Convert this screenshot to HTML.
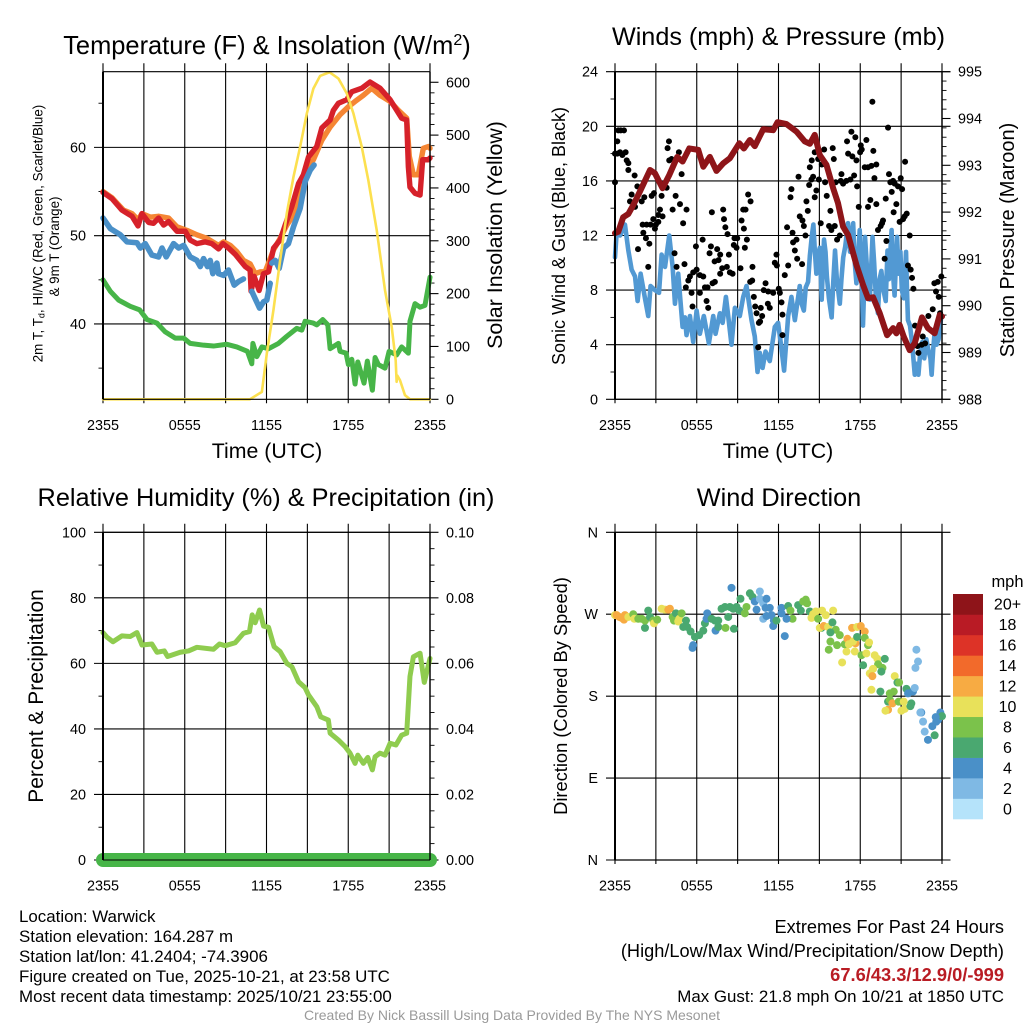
<!DOCTYPE html>
<html lang="en">
<head>
<meta charset="utf-8">
<title>Warwick Mesonet Meteogram</title>
<style>
html,body{margin:0;padding:0;background:#fff;}
svg{display:block;font-family:"Liberation Sans",sans-serif;}
text{fill:#000;}
</style>
</head>
<body>
<svg id="chart" xmlns="http://www.w3.org/2000/svg" width="1024" height="1024" viewBox="0 0 1024 1024">
<rect x="0" y="0" width="1024" height="1024" fill="#fff"/>
<g id="marks"></g>

<text x="267" y="54" font-size="25.45" text-anchor="middle">Temperature (F) &amp; Insolation (W/m<tspan font-size="16" dy="-9">2</tspan><tspan dy="9">)</tspan></text>
<text x="778.5" y="45" font-size="25.2" text-anchor="middle">Winds (mph) &amp; Pressure (mb)</text>
<text x="266" y="506" font-size="25.3" text-anchor="middle">Relative Humidity (%) &amp; Precipitation (in)</text>
<text x="779" y="506" font-size="25.3" text-anchor="middle">Wind Direction</text>

<text x="267" y="458" font-size="21.3" text-anchor="middle">Time (UTC)</text>
<text x="778" y="458" font-size="21.3" text-anchor="middle">Time (UTC)</text>

<text transform="translate(42.7 233.5) rotate(-90)" font-size="13.4" text-anchor="middle">2m T, T<tspan font-size="9" dy="2">d</tspan><tspan dy="-2">, HI/WC (Red, Green, Scarlet/Blue)</tspan></text>
<text transform="translate(59 246.5) rotate(-90)" font-size="13.4" text-anchor="middle">&amp; 9m T (Orange)</text>
<text transform="translate(502 235) rotate(-90)" font-size="21.3" text-anchor="middle">Solar Insolation (Yellow)</text>
<text transform="translate(565 236) rotate(-90)" font-size="18" text-anchor="middle">Sonic Wind &amp; Gust (Blue, Black)</text>
<text transform="translate(1014 240) rotate(-90)" font-size="20" text-anchor="middle">Station Pressure (Maroon)</text>
<text transform="translate(43 696) rotate(-90)" font-size="21" text-anchor="middle">Percent &amp; Precipitation</text>
<text transform="translate(567 696) rotate(-90)" font-size="18.3" text-anchor="middle">Direction (Colored By Speed)</text>

<text x="1007.5" y="587" font-size="16.5" text-anchor="middle">mph</text>

<text x="19" y="922" font-size="16.9">Location: Warwick</text>
<text x="19" y="942" font-size="16.9">Station elevation: 164.287 m</text>
<text x="19" y="962" font-size="16.9">Station lat/lon: 41.2404; -74.3906</text>
<text x="19" y="982" font-size="16.9">Figure created on Tue, 2025-10-21, at 23:58 UTC</text>
<text x="19" y="1002" font-size="16.9">Most recent data timestamp: 2025/10/21 23:55:00</text>

<text x="1004" y="933" font-size="18.2" text-anchor="end">Extremes For Past 24 Hours</text>
<text x="1004" y="957" font-size="18.2" text-anchor="end">(High/Low/Max Wind/Precipitation/Snow Depth)</text>
<text x="1004" y="981" font-size="18.3" font-weight="bold" text-anchor="end" style="fill:#b91c24">67.6/43.3/12.9/0/-999</text>
<text x="1004" y="1002" font-size="16.9" text-anchor="end">Max Gust: 21.8 mph On 10/21 at 1850 UTC</text>
<text x="512" y="1020" font-size="14" text-anchor="middle" style="fill:#9a9a9a">Created By Nick Bassill Using Data Provided By The NYS Mesonet</text>
</svg>

<script>
// ---- shared axis values
const gridHours = [0,3,6,9,12,15,18,21,24];
const xLabelHours = [0,6,12,18,24];
const xLabels = ['2355','0555','1155','1755','2355'];

// ---- temperature panel
const tempTicks = [40,50,60];
const tempMinorTicks = [35,45,55,65];
const solarTicks = [0,100,200,300,400,500,600];
const solarMinorTicks = [20,40,60,80,120,140,160,180,220,240,260,280,320,340,360,380,420,440,460,480,520,540,560,580];
const redHours = [0,.66,1.39,2.13,2.57,2.86,3.35,3.71,4.08,4.45,4.81,5.43,6.04,6.4,6.89,7.5,7.99,8.48,8.8,9.21,9.7,10.07,10.44,10.8,10.87,11.09,11.46,11.78,12.15,12.52,13,13.37,13.86,14.35,14.71,15.08,15.69,16.06,16.67,16.91,17.28,17.89,18.26,19,19.6,20.33,21.07,21.92,22.29,22.41,22.53,22.9,23.27,23.46,23.88,24];
const redTemp = [54.9,54.2,52.9,52.2,51.1,52.5,51.5,51.4,52,51.2,51.6,50.5,50.5,49.5,49.1,49.3,49.1,48.5,49.1,48.6,47.9,47.2,46.5,46.1,43.7,45.4,43.8,45.7,45.9,48.6,49.5,51.2,53.3,55.9,56.9,58.9,60.1,62.2,63.1,64.2,65,65.4,66.3,66.7,67.4,66.7,65.4,63.3,63.1,57.8,55.5,54.8,54.6,58.6,58.6,58.8];
const orangeHours = [0,.66,1.5,2.13,2.57,2.86,3.47,4.08,4.81,5.43,6.16,6.89,7.62,8.48,8.85,9.34,9.82,10.31,10.8,11.17,11.53,11.9,12.52,13,13.49,13.98,14.47,14.96,15.44,16.06,16.67,17.4,18.01,18.5,19.11,19.72,20.33,21.07,21.68,22.29,22.48,22.78,23.14,23.51,23.88,24];
const orangeTemp = [55,54.3,52.9,52.5,51.8,52.5,52.1,52.2,52,51,50.6,50.1,49.7,48.9,49.3,48.9,48.2,47.2,46.8,45.7,45.9,45.9,48.4,49.7,51.2,52.3,54.8,57.6,58.6,60.8,62.3,63.7,64.6,65.2,65.9,66.7,65.9,65.2,64.2,63.3,59,56.9,56.9,59.9,60.1,59.9];
const chillHours = [0,.54,1.27,1.76,2.49,2.74,3.1,3.59,4.08,4.33,4.64,5.18,5.55,5.92,6.4,6.89,7.14,7.38,7.67,7.87,8.06,8.36,8.48,8.85,9.21,9.63,9.95,10.31,10.5,10.92,11.22,11.49,11.78,12.02,12.27,12.33,12.39,12.64,12.93,13.25,13.61,13.98,14.47,14.83,15.2,15.49];
const chillTemp = [52,50.8,50.1,49.3,49.2,48.6,49.1,47.8,47.6,48.6,47.6,49.1,48.6,48.9,47.6,47.2,46.5,47.4,46.5,47.2,45.7,46.9,45.7,45.5,46.1,44.4,44.8,45.1,null,43.7,42.7,41.8,42.5,42.7,44.6,null,46.9,47.2,46.3,48.6,49.1,51,53.1,56.1,57.4,58];
const dewHours = [0,.54,1.15,2,2.69,3.23,3.96,4.57,5.3,5.92,6.4,7.38,8.11,9.09,9.82,10.6,10.92,11,11.29,11.66,12.15,12.88,13.49,14.22,14.59,14.83,15.44,15.69,16.13,16.5,16.67,17.28,17.4,17.84,18.01,18.26,18.5,18.7,19.16,19.4,19.77,19.97,20.21,20.7,21,21.55,21.92,22.41,22.53,22.9,23.27,23.63,24];
const dewTemp = [45,43.7,42.7,42,41.6,40.5,40.1,39.1,38.4,38.4,37.8,37.6,37.5,37.7,37.4,36.9,35.5,37.8,36.3,37.4,37.2,37.8,38.6,39.5,39.3,40.3,40.1,39.9,40.5,39.9,37.2,37.8,36.9,36.7,35.4,36,33.2,35.7,33.3,35.8,32.5,36.2,35.4,35,36.9,36.5,37.4,36.7,40.3,42.3,41.9,42.1,45.3];
const solarHours = [0,10.78,11.66,12.02,12.51,13,13.49,13.98,14.47,14.96,15.44,15.93,16.62,17.28,17.89,18.38,18.99,19.47,20.09,20.7,21.19,21.48,21.55,21.6,21.8,22.16,22.53,24];
const solarWatts = [0,0,14,86,169,263,352,421,478,541,588,612,619,607,579,541,478,415,320,206,137,74,33,45,36,8,0,0];

// ---- winds panel
const windTicks = [0,4,8,12,16,20,24];
const windMinorTicks = [2,6,10,14,18,22];
const pressureTicks = [988,989,990,991,992,993,994,995];
const pressureMinorTicks = [988.2,988.4,988.6,988.8,989.2,989.4,989.6,989.8,990.2,990.4,990.6,990.8,991.2,991.4,991.6,991.8,992.2,992.4,992.6,992.8,993.2,993.4,993.6,993.8,994.2,994.4,994.6,994.8];
const windHours = [0,.12,.37,.73,.98,1.22,1.47,1.66,1.88,2.2,2.44,2.61,2.93,3.23,3.42,3.67,3.98,4.23,4.4,4.64,4.96,5.13,5.25,5.5,5.74,5.99,6.23,6.52,6.89,7.21,7.38,7.7,7.9,8.14,8.31,8.55,8.8,9.16,9.41,9.65,10.02,10.26,10.46,10.63,10.83,11.05,11.36,11.73,11.97,12.17,12.41,12.71,12.95,13.2,13.56,13.7,13.86,14,14.17,14.3,14.45,14.56,14.66,14.78,14.9,15.03,15.17,15.25,15.34,15.45,15.55,15.7,15.9,16.02,16.15,16.28,16.5,16.62,16.75,16.9,17.1,17.25,17.38,17.48,17.6,17.72,17.85,17.96,18.1,18.2,18.28,18.35,18.5,18.7,18.8,18.9,19.02,19.15,19.3,19.42,19.55,19.7,19.87,20,20.1,20.3,20.42,20.52,20.62,20.7,20.82,20.95,21.05,21.2,21.36,21.43,21.5,21.65,21.8,22,22.12,22.27,22.4,22.55,22.7,22.85,23,23.15,23.24,23.35,23.45,23.6,23.75,23.95];
const windSpeed = [10.4,12.2,12,12.8,10.9,9.5,9,7.2,9.2,7.4,6.1,8.3,8,7.8,10.6,9.7,12,9.7,7,9.2,5.3,6,4.7,6.1,4.2,6.5,4.8,6.1,4.1,6.1,4.8,6.3,5.6,7.5,6.1,4,6.7,6.1,7.5,8.3,5.8,4.6,2,3.4,2.3,3.5,2.8,5.3,5.6,4.1,2.1,6.1,7.5,5.8,8.3,7,6.5,8.2,8.6,10.5,12,12.8,11,9.2,10.6,11.1,7.3,9.5,11.7,10.8,9,7.4,6,8.6,10.9,8.8,7,8.8,10.4,11.2,12.9,10.8,11.9,12.9,10,8.5,10.4,12.4,9.5,5.4,8,11.9,9.5,7.3,9.6,11.9,10,7.4,6.3,8.8,9.4,8,7.2,10.9,8.8,12.4,9,7.6,10,11.9,9.2,10.8,8,7.4,10.8,8,5.8,5.4,4.2,1.8,2.6,1.8,3.4,4.2,3,4.4,3.6,3,1.8,3.6,4.8,4,4.4,6.1];
const gustHours = [0,0,.17,.24,.42,.66,.17,.37,.54,.78,.86,.98,.98,1.44,1.64,1.22,1.1,1.47,1.96,2.15,2.69,2.86,3.42,3.79,3.98,4.15,3.96,3.86,4.69,4.89,4.45,4.77,4.23,5.25,3.3,3.49,3.18,2.81,3.18,3,2.93,2.03,2.32,2.61,5,2.08,2.27,2.52,1.69,2.44,4.37,4.52,5.1,5.94,6.43,7.11,7.94,8,8.1,8.26,8.77,8.97,9.41,9.58,9.95,9.77,9.29,9.46,9.68,8.72,8.92,9.53,7.04,6.94,7.5,7.72,7.6,7.31,8.36,8.21,7.87,7.72,7.33,7.16,8.43,8.63,9.21,10.09,11.85,11.73,11.88,12.71,12.46,13.37,13.73,13.2,13.07,13.32,13.03,12.63,13.98,13.86,13.76,13.56,14.15,14.05,12.88,12.95,13.47,14.3,14.44,14.66,14.91,15.18,15.35,15.98,16.06,14.25,14.42,14.54,14.96,14.78,14.66,15.54,15.42,15.81,15.1,15.71,15.88,16.13,16.3,16.5,16.2,16.62,16.57,16.74,16.98,17.28,17.55,17.77,17.03,17.35,17.64,18.04,18.11,17.99,17.11,17.42,17.72,18.45,18.96,18.33,18.57,18.82,19.18,19.04,18.89,20.04,20.11,20.21,20.41,20.53,20.77,21.07,20.97,21.29,20.31,19.87,18.74,18.57,19.18,17.89,20.65,20.45,21.41,21.26,21.14,20.89,19.67,19.6,19.5,19.3,21.63,19.92,19.79,21.5,21.7,21.8,21.9,23.44,23.69,23.95,23.56,23.76,23.32,23.86,23,22.02,22.59,22.76,22.51,22.27,22.2,10.51,12.29,12.29,12.22,12.1,12.02,11.61,11.24,10.92,11.05,10.19,9.92,10.07,10.29,10.7,10.39,10.8,10.65,10.56,11.22,11.36,5.69,6.84,6.72,6.79,6.6,6.23,5.2,5.62,5.38,5.5,5.74,5.99,6.23,6.48];
const gustSpeed = [15.9,18,18,19.7,19.7,19.7,18.9,18.1,17.9,18.1,17.5,17.3,16.8,16.4,15.6,15,14.5,14.1,14.5,14.8,14.9,15.1,14.9,15.5,17.5,17.6,18.9,18.4,18.1,16.5,14.9,14.3,13.9,13.9,13.9,13.4,13.5,13.2,13,12.8,12.5,12.8,12.8,12.8,12.9,12.2,11.8,11.4,11,9.7,10.7,9.7,9.9,11.2,11.7,13.7,13.9,13.2,12.6,12.1,11.8,11.8,13.9,13.9,14.5,15,13.1,12.5,11.7,11.3,11.1,11.1,11.2,10.7,11,10.6,10.2,10.1,10.6,9.7,9.6,9.2,8.6,8.5,9.3,9.2,9.6,9.7,10.6,10,9.8,9.8,9.1,10.3,9.9,10.9,11.5,11.7,12.2,12.6,12,12.7,13.1,13.4,13.8,14.5,14.8,15.4,16.3,17,17.5,18.1,17.6,17.2,18.3,18.4,17.6,15.7,16.1,16.3,16.1,15.3,14.8,14.9,15.9,13.8,12.9,12.7,12.4,12.7,11.7,12,15.9,16.5,16,15.8,16,16.1,16.4,15.6,18.9,19.6,19.2,18.6,18.3,18.1,18,17.8,17.5,19,18.2,17,17,17.1,17.2,16.2,21.8,19.9,16.5,15.9,16,15.8,15.6,15.4,16.2,17.4,15.2,14.7,14.6,14.1,14.3,14.1,14.3,13.7,13.6,13.4,13.2,13,13.1,12.9,12.7,12.4,12,11.6,10.3,9.8,9.5,8.9,8.1,8.5,8.6,9,7.9,7.5,6.6,6.3,6.1,5.4,4.6,4.1,4,3.4,3.9,3.8,4.7,6.2,7.1,7.8,8.1,7.8,7.9,8,8.5,7.5,8.6,8.7,6.8,6.7,6.3,6.1,5.7,5.6,7,6.7,6.8,6.7,7.2,8.2,8.2,7.8,8.2,7.8,8.7,9,9.3,9.5,9.1,9];
const pressureHours = [0,.24,.6,.98,1.34,1.83,2.57,2.93,3.49,3.98,4.57,4.96,5.45,6.11,6.48,6.96,7.45,7.94,8.43,9.12,9.46,9.9,10.26,10.88,11.61,11.93,12.59,13.32,13.93,14.3,14.66,15.03,15.52,16.01,16.37,16.74,17.11,17.72,18.21,18.57,18.94,19.43,19.97,20.41,20.65,20.89,21.19,21.63,22,22.53,22.97,23.46,23.83,24];
const pressureMb = [991.55,991.58,991.89,991.96,992.15,992.44,992.9,992.83,992.51,992.79,993.18,993.08,993.36,993.33,992.97,993.18,992.88,993.04,993.15,993.47,993.36,993.54,993.41,993.77,993.75,993.92,993.88,993.72,993.51,993.46,993.65,993.22,993.01,992.51,992.19,991.69,991.51,990.87,990.44,990.16,990.18,989.84,989.37,989.52,989.41,989.59,989.34,989.05,989.2,989.75,989.52,989.41,989.8,989.77];

// ---- humidity panel
const humidityTicks = [0,20,40,60,80,100];
const humidityMinorTicks = [10,30,50,70,90];
const precipTicks = [0,.02,.04,.06,.08,.1];
const precipTickLabels = ['0.00','0.02','0.04','0.06','0.08','0.10'];
const precipMinorTicks = [.005,.01,.015,.025,.03,.035,.045,.05,.055,.065,.07,.075,.085,.09,.095];
const humidityHours = [0,.29,.73,1.39,2,2.49,2.86,3.59,3.96,4.5,4.74,5.67,6.28,6.89,8.11,8.55,8.97,9.7,10.31,10.75,10.95,11.17,11.49,11.78,12.15,12.56,13,13.49,13.86,14.35,14.83,15.08,15.69,15.98,16.54,16.67,17.28,17.77,18.13,18.5,18.7,19.11,19.43,19.77,19.97,20.33,20.7,21.07,21.5,21.92,22.29,22.53,22.78,23.27,23.58,24];
const humidityPct = [69.4,68,66.6,68.4,68.2,69.4,65.6,65.9,63.4,63.8,62.1,63.4,63.8,64.9,64.3,65.9,65.4,66.3,69.2,69.7,74.8,72.4,76.3,71.4,71,65.1,63.6,60,59,54.4,52.6,50.4,46.8,43.7,42.7,38.7,36.6,34.6,32.6,29.5,32,29.5,31.3,27.5,31.5,32.6,32,35.6,35.1,38.1,38.7,56,62,63.1,54.2,61.5];
const precipHours = [0,3,6,9,12,15,18,21,24];
const precipInches = [0,0,0,0,0,0,0,0,0];

// ---- wind direction panel
const directionTicks = [0,90,180,270,360];
const directionLabels = ['N','E','S','W','N'];
const directionHours = [0,.12,.32,.49,.66,.73,.98,1.34,1.42,1.71,1.96,2.2,2.2,2.44,2.57,2.81,2.86,3.1,3.42,3.67,3.91,4.03,4.23,4.33,4.47,4.72,4.64,4.89,5.21,5.01,5.3,5.55,5.87,6.18,6.48,6.6,5.74,5.69,6.77,6.72,7.09,7.33,7.58,7.38,7.58,8.11,8.73,7.82,8.07,8.31,8.55,8.43,8.68,8.92,9.21,9.12,9.53,9.65,9.9,10.09,10.26,10.39,10.63,10.63,10.88,11.12,11.05,11.36,10.88,11.12,11.49,11.66,11.61,12.22,12.22,12.46,11.85,12.71,12.88,13.03,12.59,13.44,13.64,13.81,14,14.1,14.3,14.54,14.42,14.74,14.91,15.2,15.47,15.15,15.03,15.32,16.01,15.64,15.96,16.2,16.5,15.81,15.81,15.69,16.3,16.67,16.99,16.86,17.4,17.77,18.04,18.33,17.06,17.16,17.65,17.47,17.77,18.33,18.57,18.65,17.6,18.09,18.45,18.21,19.06,19.26,19.8,19.63,19.31,19.55,18.94,18.7,18.89,18.82,19.48,20.53,20.73,20.85,21.39,20.17,20.46,20.04,20.17,20.36,20.04,19.85,20.82,21.19,21.02,21.26,21.75,21.68,21.51,21.87,22,22.12,22.24,22.05,22.48,22.41,22.61,22.73,22.97,23.46,23.29,23.58,23.71,23.88,24,23.54];
const directionDeg = [269,269,267,266,264,269,267,270,265,265,265,255,263,274,267,263,260,264,276,275,275,276,267,263,271,265,262,271,263,256,256,251,245,247,252,260,236,233,271,265,265,263,263,252,256,255,254,276,278,267,299,278,276,278,287,274,271,278,293,289,284,275,295,287,282,287,277,277,265,268,269,263,257,277,271,246,263,279,274,265,265,280,274,284,286,282,273,270,266,273,265,274,269,255,255,257,274,256,261,253,247,250,240,231,236,217,229,237,255,256,257,251,243,237,238,240,245,244,236,239,229,225,227,214,225,221,221,211,215,207,210,205,202,187,185,202,195,195,188,183,185,174,176,172,165,164,174,174,164,166,172,169,183,185,189,231,218,211,162,162,152,141,132,137,147,152,154,162,158,157];
const directionSpeed = [10,12,12,12,12,12,10,8,10,8,8,6,8,6,6,8,10,8,10,10,12,12,8,8,6,10,10,8,6,6,6,6,6,6,6,6,4,4,4,4,6,6,6,4,6,8,6,6,6,6,4,6,6,6,6,6,8,8,6,6,4,4,2,2,2,4,4,4,2,4,4,4,4,4,4,4,6,6,8,8,4,6,6,8,8,8,6,10,10,10,8,10,10,6,10,12,10,10,6,8,8,6,8,8,8,10,10,8,12,10,12,12,12,10,12,10,6,8,8,10,10,8,10,6,10,10,6,8,8,6,10,10,12,10,6,10,6,8,6,8,8,6,8,12,12,10,8,10,10,10,6,6,4,4,2,2,2,2,4,2,2,2,4,6,4,4,4,4,6,4];

// ---- colour bar
const speedBins = [0,2,4,6,8,10,12,14,16,18,20];
const speedLabels = ['0','2','4','6','8','10','12','14','16','18','20+'];
const speedColors = ['#b5e3fa','#7fb9e4','#4a90c8','#4aa870','#7bc24b','#e8e15a','#f7ab43','#f26a2b','#dd3327','#b91b25','#8e1419'];

// ---- axis functions
const NS = 'http://www.w3.org/2000/svg';
const root = document.getElementById('marks');
const panelTemp = {l:103, r:430, t:71.7, b:399.3};
const panelWind = {l:615, r:942, t:71.7, b:399.3};
const panelHum = {l:103, r:430, t:532.3, b:860};
const panelDir = {l:615, r:942, t:532.3, b:860};
function xScale(p, h){ return p.l + (h/24)*(p.r-p.l); }
function yScale(p, v, lo, hi){ return p.b - ((v-lo)/(hi-lo))*(p.b-p.t); }
const yTemp = v => yScale(panelTemp, v, 31.47, 68.57);
const ySolar = v => yScale(panelTemp, v, 0, 620);
const yWind = v => yScale(panelWind, v, 0, 24);
const yPress = v => yScale(panelWind, v, 988, 995);
const yHum = v => yScale(panelHum, v, 0, 100);
const yPrecip = v => yScale(panelHum, v, 0, .1);
const yDir = v => yScale(panelDir, v, 0, 360);

function make(tag, attrs){
  const el = document.createElementNS(NS, tag);
  for (const k in attrs) el.setAttribute(k, attrs[k]);
  root.appendChild(el);
  return el;
}
function tickLine(x1,y1,x2,y2,w){
  return make('line',{x1:x1,y1:y1,x2:x2,y2:y2,stroke:'#000','stroke-width':w});
}
function pathFor(p, hours, values, yFn){
  let d = '', pen = false;
  hours.forEach(function(h,i){
    if (values[i] === null) { pen = false; return; }
    d += (pen ? 'L' : 'M') + xScale(p,h).toFixed(2) + ' ' + yFn(values[i]).toFixed(2);
    pen = true;
  });
  return d;
}
function seriesAttrs(d, color, width){
  return {d:d, fill:'none', stroke:color, 'stroke-width':width, 'stroke-linejoin':'round', 'stroke-linecap':'round'};
}
function label(x, y, txt, anchor, size){
  const t = make('text',{x:x,y:y,'font-size':size || 14.4,'text-anchor':anchor});
  t.textContent = txt;
  return t;
}

// vertical grid and x tick labels, shared by all four panels
function drawVerticalGrid(p, ext){
  gridHours.forEach(function(h){
    const g = tickLine(xScale(p,h), p.t-8.5, xScale(p,h), p.b+ext, 1.1);
    
    
  });
  xLabelHours.forEach(function(h,i){
    const t = label(xScale(p,h), p.b+30.5, xLabels[i], 'middle');
    
    
  });
}
function drawFrame(p){
  const top = tickLine(p.l, p.t, p.r, p.t, 1.2);
  
  
  const bottom = tickLine(p.l, p.b, p.r, p.b, 1.2);
  
  
  const left = tickLine(p.l, p.t, p.l, p.b, 2);
  
  
  const right = tickLine(p.r, p.t, p.r, p.b, 1.4);
  
  
}
function drawGridY(p, ticks, yFn, xEnd, lbls){
  ticks.forEach(function(v,i){
    const g = tickLine(p.l-9, yFn(v), xEnd, yFn(v), 1.1);
    
    
    const t = label(p.l-17, yFn(v)+5, lbls ? lbls[i] : String(v), 'end');
    
    
  });
}
function drawLeftMinor(p, ticks, yFn){
  ticks.forEach(function(v){
    const g = tickLine(p.l-4.5, yFn(v), p.l, yFn(v), 0.9);
    
    
  });
}
function drawRightAxis(p, ticks, minor, yFn, lbls){
  ticks.forEach(function(v,i){
    const g = tickLine(p.r, yFn(v), p.r+8.5, yFn(v), 1.1);
    
    
    const t = label(p.r+16, yFn(v)+5, lbls ? lbls[i] : String(v), 'start');
    
    
  });
  minor.forEach(function(v){
    const g = tickLine(p.r, yFn(v), p.r+4.5, yFn(v), 0.9);
    
    
  });
}

// ---- temperature panel
drawVerticalGrid(panelTemp, 4);
drawGridY(panelTemp, tempTicks, yTemp, panelTemp.r);
drawLeftMinor(panelTemp, tempMinorTicks, yTemp);
drawRightAxis(panelTemp, solarTicks, solarMinorTicks, ySolar);
const orangeLine = make('path', seriesAttrs(pathFor(panelTemp, orangeHours, orangeTemp, yTemp), '#f58634', 5.4));


const redLine = make('path', seriesAttrs(pathFor(panelTemp, redHours, redTemp, yTemp), '#d6212a', 5.4));


const chillLine = make('path', seriesAttrs(pathFor(panelTemp, chillHours, chillTemp, yTemp), '#4a90c8', 5.6));


const dewLine = make('path', seriesAttrs(pathFor(panelTemp, dewHours, dewTemp, yTemp), '#47b548', 5));


const solarLine = make('path', seriesAttrs(pathFor(panelTemp, solarHours, solarWatts, ySolar), '#fce04f', 2.6));


drawFrame(panelTemp);

// ---- winds panel
drawVerticalGrid(panelWind, 4);
drawGridY(panelWind, windTicks, yWind, panelWind.r+8.5);
drawLeftMinor(panelWind, windMinorTicks, yWind);
drawRightAxis(panelWind, pressureTicks, pressureMinorTicks, yPress);
const windLine = make('path', seriesAttrs(pathFor(panelWind, windHours, windSpeed, yWind), '#5299d3', 4.6));


gustHours.forEach(function(h,i){
  const dot = make('circle',{cx:xScale(panelWind,h), cy:yWind(gustSpeed[i]), r:3, fill:'#000'});
  
  
});
const pressLine = make('path', seriesAttrs(pathFor(panelWind, pressureHours, pressureMb, yPress), '#8e1519', 6));


drawFrame(panelWind);

// ---- humidity panel
drawVerticalGrid(panelHum, 4);
drawGridY(panelHum, humidityTicks, yHum, panelHum.r);
drawLeftMinor(panelHum, humidityMinorTicks, yHum);
drawRightAxis(panelHum, precipTicks, precipMinorTicks, yPrecip, precipTickLabels);
const humidLine = make('path', seriesAttrs(pathFor(panelHum, humidityHours, humidityPct, yHum), '#8fcc4f', 5));


const precipLine = make('path', seriesAttrs(pathFor(panelHum, precipHours, precipInches, yPrecip), '#47b548', 14));


const precipAxis = tickLine(panelHum.l, panelHum.b, panelHum.r, panelHum.b, 1);


const humLeft = tickLine(panelHum.l, panelHum.t, panelHum.l, panelHum.b, 2);


const humRight = tickLine(panelHum.r, panelHum.t, panelHum.r, panelHum.b, 1.4);


const humTop = tickLine(panelHum.l, panelHum.t, panelHum.r, panelHum.t, 1.2);



// ---- direction panel
drawVerticalGrid(panelDir, 4);
drawGridY(panelDir, directionTicks, yDir, panelDir.r+8.5, directionLabels);
drawFrame(panelDir);
directionHours.forEach(function(h,i){
  const bin = speedBins.indexOf(directionSpeed[i]);
  const dot = make('circle',{cx:xScale(panelDir,h), cy:yDir(directionDeg[i]), r:4, fill:speedColors[bin]});
  
  
});

// ---- colour bar
const barTop = 594, barBottom = 819, barStep = (barBottom-barTop)/speedBins.length;
speedBins.forEach(function(s,i){
  const y = barBottom - (i+1)*barStep;
  const box = make('rect',{x:953, y:y, width:30, height:barStep+0.3, fill:speedColors[i]});
  
  
  const t = label(1007.5, y+barStep/2+5.5, speedLabels[i], 'middle', 16);
  
  
});
</script>
</body>
</html>
